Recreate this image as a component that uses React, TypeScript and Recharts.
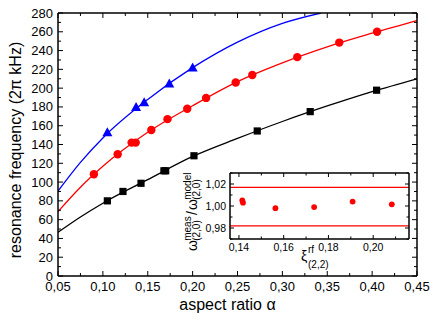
import { ComposedChart, Line, Scatter, XAxis, YAxis, ReferenceLine } from "recharts"

const FONT = "'Liberation Sans', Arial, sans-serif"
const W = 436, H = 324
// main plot frame (px)
const PL = 58, PT = 13, PR = 417, PB = 276
// inset frame (px)
const IL = 230, IT = 173, IR = 409, IB = 239

// measured points: blue triangles, red circles, black squares
const triAlpha = [0.105, 0.137, 0.146, 0.174, 0.2]
const triFreq = [153, 180, 185, 205, 222]
const circAlpha = [0.09, 0.1165, 0.132, 0.1366, 0.154, 0.172, 0.194, 0.215, 0.248, 0.2665, 0.3166, 0.3634, 0.4055]
const circFreq = [108.3, 129.6, 142, 142, 155.5, 167, 178, 189.6, 206, 214, 233, 248.5, 260]
const sqAlpha = [0.105, 0.1224, 0.1425, 0.168, 0.17, 0.2015, 0.272, 0.331, 0.405]
const sqFreq = [80, 90, 98.7, 112, 112, 128, 154.4, 175, 197.8]

// model curves
const blueFitAlpha = [0.05, 0.075, 0.1, 0.15, 0.2, 0.25, 0.3, 0.343]
const blueFitFreq = [90.5, 121, 147, 188, 221.8, 249, 269, 280]
const redFitAlpha = [0.05, 0.075, 0.1, 0.15, 0.2, 0.25, 0.3, 0.35, 0.4, 0.45]
const redFitFreq = [68.5, 94.5, 116.8, 153, 181.3, 207, 227, 244, 258.5, 272]
const blackFitAlpha = [0.05, 0.075, 0.1, 0.15, 0.2, 0.25, 0.3, 0.35, 0.4, 0.45]
const blackFitFreq = [46.5, 62.8, 77.5, 102.6, 127.3, 146.5, 164.5, 181, 196.3, 210]

// inset: ratio vs xi
const insetXi = [0.1415, 0.1418, 0.1563, 0.1736, 0.1908, 0.2083]
const insetRatio = [1.005, 1.003, 0.998, 0.999, 1.004, 1.0015]
const insetBounds = [1.017, 0.982]

const xTicks = [0.05, 0.075, 0.1, 0.125, 0.15, 0.175, 0.2, 0.225, 0.25, 0.275, 0.3, 0.325, 0.35, 0.375, 0.4, 0.425, 0.45]
const xMajors = [0.05, 0.1, 0.15, 0.2, 0.25, 0.3, 0.35, 0.4, 0.45]
const yTicks = [0, 10, 20, 30, 40, 50, 60, 70, 80, 90, 100, 110, 120, 130, 140, 150, 160, 170, 180, 190, 200, 210, 220, 230, 240, 250, 260, 270, 280]
const yMajors = [0, 20, 40, 60, 80, 100, 120, 140, 160, 180, 200, 220, 240, 260, 280]
const ixTicks = [0.14, 0.15, 0.16, 0.17, 0.18, 0.19, 0.2, 0.21]
const ixMajors = [0.14, 0.16, 0.18, 0.2]
const iyTicks = [0.97, 0.98, 0.99, 1.0, 1.01, 1.02, 1.03]
const iyMajors = [0.98, 1.0, 1.02]

const pts = (xs: number[], ys: number[]) => xs.map((a, i) => ({ a, f: ys[i] }))
const comma = (v: number) => v.toFixed(2).replace(".", ",")

type TickOpts = {
  side: "bottom" | "top" | "left" | "right"
  edge: number
  majors: number[]
  major: number
  minor: number
  fs?: number
  at?: number
  label?: (v: number) => string
}

function tickFor(o: TickOpts) {
  return (p: any) => {
    const v = p.payload.value
    const isMajor = o.majors.includes(v)
    const len = isMajor ? o.major : o.minor
    const horiz = o.side === "bottom" || o.side === "top"
    const c = horiz ? p.x : p.y
    const dir = o.side === "bottom" || o.side === "right" ? -1 : 1
    return (
      <g>
        {horiz
          ? <line x1={c} x2={c} y1={o.edge} y2={o.edge + dir * len} stroke="#000" strokeWidth={1} />
          : <line x1={o.edge} x2={o.edge + dir * len} y1={c} y2={c} stroke="#000" strokeWidth={1} />}
        {isMajor && o.label && (horiz
          ? <text x={c} y={o.at} textAnchor="middle" fontSize={o.fs} fontFamily={FONT} fill="#000">{o.label(v)}</text>
          : <text x={o.at} y={c} textAnchor="end" dominantBaseline="central" fontSize={o.fs} fontFamily={FONT} fill="#000">{o.label(v)}</text>)}
      </g>
    )
  }
}

const axisLine = { stroke: "#000", strokeWidth: 1.5 }

function Tri(p: any) {
  return <polygon points={`${p.cx},${p.cy - 5} ${p.cx - 5},${p.cy + 4} ${p.cx + 5},${p.cy + 4}`} fill="#0000ff" />
}
function Dot(p: any) {
  return <circle cx={p.cx} cy={p.cy} r={4.2} fill="#ff0000" />
}
function Sq(p: any) {
  return <rect x={p.cx - 3.6} y={p.cy - 3.6} width={7.2} height={7.2} fill="#000" />
}
function SmallDot(p: any) {
  return <circle cx={p.cx} cy={p.cy} r={2.9} fill="#ff0000" />
}

export default function App() {
  return (
    <div style={{ position: "absolute", left: 0, top: 0, width: W, height: H, background: "#fff" }}>
      <div style={{ position: "absolute", left: 0, top: 0 }}>
        <ComposedChart width={W} height={H} margin={{ top: PT - 1, left: PL - 1, right: W - PR - 1, bottom: H - PB - 1 }}>
          <XAxis xAxisId="b" dataKey="a" type="number" domain={[0.05, 0.45]} allowDataOverflow ticks={xTicks} interval={0} height={1}
            axisLine={axisLine} tickLine={false} tick={tickFor({ side: "bottom", edge: PB, majors: xMajors, major: 5, minor: 3, fs: 13, at: 291, label: comma })} />
          <XAxis xAxisId="t" orientation="top" dataKey="a" type="number" domain={[0.05, 0.45]} allowDataOverflow ticks={xTicks} interval={0} height={1}
            axisLine={axisLine} tickLine={false} tick={tickFor({ side: "top", edge: PT, majors: xMajors, major: 5, minor: 3 })} />
          <YAxis yAxisId="l" dataKey="f" type="number" domain={[0, 280]} allowDataOverflow ticks={yTicks} interval={0} width={1}
            axisLine={axisLine} tickLine={false} tick={tickFor({ side: "left", edge: PL, majors: yMajors, major: 5, minor: 3, fs: 13, at: 53, label: (v) => String(v) })} />
          <YAxis yAxisId="r" orientation="right" dataKey="f" type="number" domain={[0, 280]} allowDataOverflow ticks={yTicks} interval={0} width={1}
            axisLine={axisLine} tickLine={false} tick={tickFor({ side: "right", edge: PR, majors: yMajors, major: 5, minor: 3 })} />
          <Line xAxisId="b" yAxisId="l" data={pts(blueFitAlpha, blueFitFreq)} dataKey="f" type="monotone" stroke="#0000ff" strokeWidth={1.3} dot={false} isAnimationActive={false} />
          <Line xAxisId="b" yAxisId="l" data={pts(redFitAlpha, redFitFreq)} dataKey="f" type="monotone" stroke="#ff0000" strokeWidth={1.3} dot={false} isAnimationActive={false} />
          <Line xAxisId="b" yAxisId="l" data={pts(blackFitAlpha, blackFitFreq)} dataKey="f" type="monotone" stroke="#000" strokeWidth={1.3} dot={false} isAnimationActive={false} />
          <Scatter xAxisId="b" yAxisId="l" data={pts(triAlpha, triFreq)} shape={Tri} isAnimationActive={false} />
          <Scatter xAxisId="b" yAxisId="l" data={pts(circAlpha, circFreq)} shape={Dot} isAnimationActive={false} />
          <Scatter xAxisId="b" yAxisId="l" data={pts(sqAlpha, sqFreq)} shape={Sq} isAnimationActive={false} />
        </ComposedChart>
      </div>
      <div style={{ position: "absolute", left: 0, top: 0 }}>
        <ComposedChart width={W} height={H} margin={{ top: IT - 1, left: IL - 1, right: W - IR - 1, bottom: H - IB - 1 }}>
          <XAxis xAxisId="b" dataKey="a" type="number" domain={[0.136, 0.216]} allowDataOverflow ticks={ixTicks} interval={0} height={1}
            axisLine={axisLine} tickLine={false} tick={tickFor({ side: "bottom", edge: IB, majors: ixMajors, major: 4, minor: 2.5, fs: 10.5, at: 251, label: comma })} />
          <XAxis xAxisId="t" orientation="top" dataKey="a" type="number" domain={[0.136, 0.216]} allowDataOverflow ticks={ixTicks} interval={0} height={1}
            axisLine={axisLine} tickLine={false} tick={tickFor({ side: "top", edge: IT, majors: ixMajors, major: 4, minor: 2.5 })} />
          <YAxis yAxisId="l" dataKey="f" type="number" domain={[0.97, 1.03]} allowDataOverflow ticks={iyTicks} interval={0} width={1}
            axisLine={axisLine} tickLine={false} tick={tickFor({ side: "left", edge: IL, majors: iyMajors, major: 4, minor: 2.5, fs: 10.5, at: 226, label: comma })} />
          <YAxis yAxisId="r" orientation="right" dataKey="f" type="number" domain={[0.97, 1.03]} allowDataOverflow ticks={iyTicks} interval={0} width={1}
            axisLine={axisLine} tickLine={false} tick={tickFor({ side: "right", edge: IR, majors: iyMajors, major: 4, minor: 2.5 })} />
          {insetBounds.map((b) => (
            <ReferenceLine key={b} xAxisId="b" yAxisId="l" y={b} stroke="#ff0000" strokeWidth={1.3} />
          ))}
          <Scatter xAxisId="b" yAxisId="l" data={pts(insetXi, insetRatio)} shape={SmallDot} isAnimationActive={false} />
        </ComposedChart>
      </div>
      <svg width={W} height={H} style={{ position: "absolute", left: 0, top: 0, pointerEvents: "none" }} fontFamily={FONT} fill="#000">
        <text transform="translate(21,150) rotate(-90)" textAnchor="middle" fontSize={16}>resonance frequency (2π kHz)</text>
        <text x={227.5} y={310} textAnchor="middle" fontSize={16}>aspect ratio α</text>
        <g transform="translate(196.5,251) rotate(-90)">
          <text x={0} y={0} fontSize={14}>ω</text>
          <text x={10.2} y={-5.5} fontSize={10}>meas</text>
          <text x={10.2} y={3} fontSize={10}>(2,0)</text>
          <text x={36} y={0} fontSize={14}>/</text>
          <text x={41} y={0} fontSize={14}>ω</text>
          <text x={51.2} y={-5.5} fontSize={10}>model</text>
          <text x={51.2} y={3} fontSize={10}>(2,0)</text>
        </g>
        <text x={301} y={260.5} fontSize={14}>ξ</text>
        <text x={308} y={253} fontSize={10}>rf</text>
        <text x={308} y={268} fontSize={10}>(2,2)</text>
      </svg>
    </div>
  )
}
